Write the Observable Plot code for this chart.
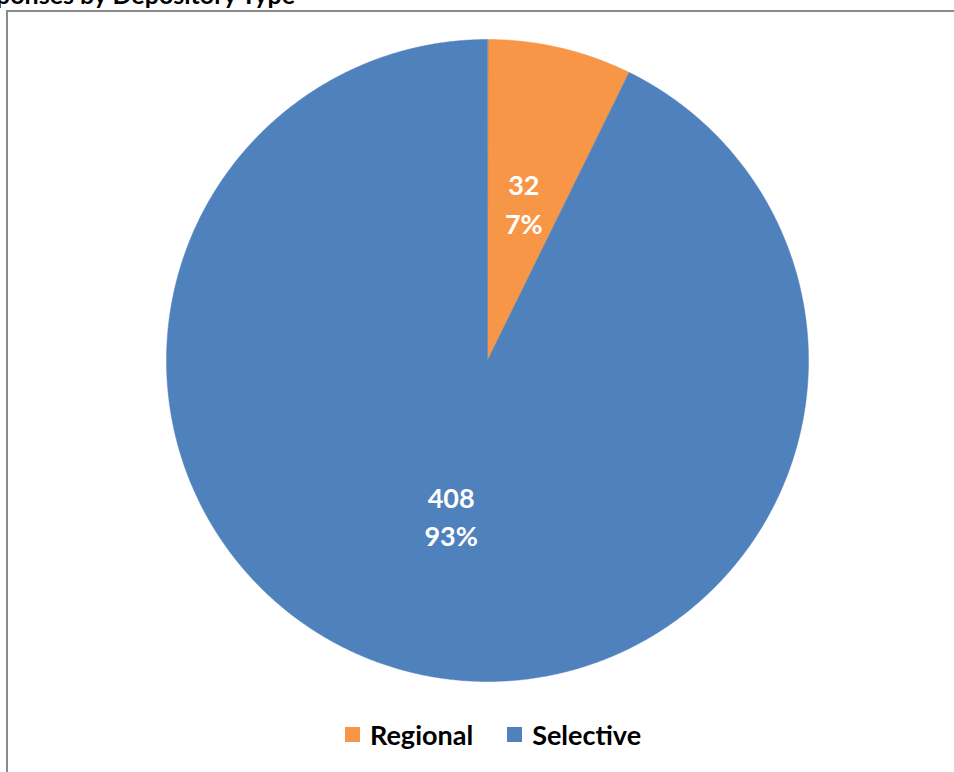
<!DOCTYPE html>
<html>
<head>
<meta charset="utf-8">
<script src="https://cdn.jsdelivr.net/npm/d3@7"></script>
<script src="https://cdn.jsdelivr.net/npm/@observablehq/plot@0.6"></script>
<style>
  html, body { margin: 0; padding: 0; background: #fff; }
  body { width: 954px; height: 772px; overflow: hidden; position: relative; font-family: Lato, "Open Sans", sans-serif; }
  #title { position: absolute; right: 659px; top: -18px; font: bold 25px Lato, sans-serif; white-space: nowrap; color: #000; line-height: 25px; }
  #frame { position: absolute; left: 6px; top: 10px; width: 1000px; height: 900px; border-left: 2px solid #8a8a8a; border-top: 2px solid #8a8a8a; }
  #chart { position: absolute; left: 0; top: 0; }
  #legend { position: absolute; left: 345px; top: 718px; display: flex; align-items: center; font: bold 27px Lato, sans-serif; color: #000; }
  #legend .item { display: flex; align-items: center; }
  #legend .sw { width: 15px; height: 15px; margin-right: 10px; }
</style>
</head>
<body>
<div id="title">Responses by Depository Type</div>
<div id="frame"></div>
<div id="chart"></div>
<div id="legend"></div>
<script>
const categories = ["Regional", "Selective"];
const counts = [32, 408];
const colors = ["#F79646", "#4F81BD"];

const total = d3.sum(counts);
const arcs = d3.pie().sort(null)(counts);

const slices = [];
const labels = [];
arcs.forEach((a, i) => {
  const cat = categories[i];
  slices.push({cat, x: 0, y: 0});
  const n = Math.max(4, Math.ceil((a.endAngle - a.startAngle) / 0.005));
  for (let k = 0; k <= n; k++) {
    const t = a.startAngle + (a.endAngle - a.startAngle) * k / n;
    slices.push({cat, x: Math.sin(t), y: Math.cos(t)});
  }
  const mid = (a.startAngle + a.endAngle) / 2;
  labels.push({
    cat,
    x: 0.5 * Math.sin(mid),
    y: 0.5 * Math.cos(mid),
    text: `${counts[i]}\n${Math.round(100 * counts[i] / total)}%`
  });
});

const cx = 487, cy = 360, R = 321;

const chart = Plot.plot({
  width: 954,
  height: 772,
  margin: 0,
  x: {domain: [-1, 1], range: [cx - R, cx + R], axis: null},
  y: {domain: [-1, 1], range: [cy + R, cy - R], axis: null},
  color: {domain: categories, range: colors},
  style: {background: "transparent", overflow: "visible"},
  marks: [
    ...categories.map((c, i) =>
      Plot.line(slices.filter(d => d.cat === c), {
        x: "x", y: "y", fill: colors[i], stroke: colors[i], strokeWidth: 0.5, curve: "linear-closed"
      })
    ),
    Plot.text(labels, {
      x: "x", y: "y", text: "text", fill: "white",
      fontSize: 27, fontWeight: "bold", fontFamily: "Lato, sans-serif",
      lineHeight: 1.42, textAnchor: "middle", dy: -2
    })
  ]
});
document.getElementById("chart").appendChild(chart);

const legend = document.getElementById("legend");
categories.forEach((c, i) => {
  const item = document.createElement("div");
  item.className = "item";
  item.style.marginRight = i === 0 ? "34px" : "0";
  const sw = document.createElement("div");
  sw.className = "sw";
  sw.style.background = colors[i];
  const t = document.createElement("span");
  t.textContent = c;
  item.appendChild(sw);
  item.appendChild(t);
  legend.appendChild(item);
});
</script>
</body>
</html>
